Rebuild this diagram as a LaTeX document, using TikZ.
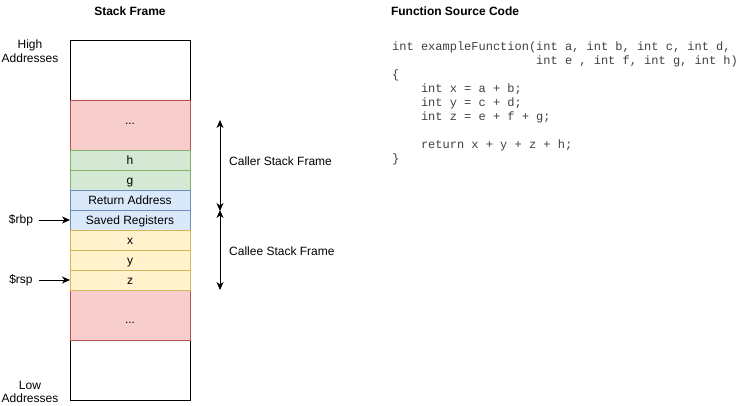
\documentclass[tikz,border=0pt]{standalone}
\usepackage{fontspec}
\setmainfont{Liberation Sans}
\newfontfamily\codefont{Liberation Mono}
\usetikzlibrary{arrows.meta}
\definecolor{redF}{HTML}{F8CECC}\definecolor{redD}{HTML}{B85450}
\definecolor{grnF}{HTML}{D5E8D4}\definecolor{grnD}{HTML}{82B366}
\definecolor{bluF}{HTML}{DAE8FC}\definecolor{bluD}{HTML}{6C8EBF}
\definecolor{yelF}{HTML}{FFF2CC}\definecolor{yelD}{HTML}{D6B656}
\definecolor{codeC}{HTML}{404040}
\tikzset{
  lbl/.style={font=\fontsize{12}{13.5}\selectfont, inner sep=0pt},
  ttl/.style={font=\fontsize{12}{14}\selectfont\bfseries, inner sep=0pt},
  cell/.style={draw, line width=0.9pt, minimum width=120pt, anchor=north west, inner sep=0pt, outer sep=0pt,
    text height=10pt, text depth=1.5pt, font=\fontsize{12}{14}\selectfont},
  whitecell/.style={cell, draw=black, fill=white},
  redcell/.style={cell, draw=redD, fill=redF},
  grncell/.style={cell, draw=grnD, fill=grnF},
  blucell/.style={cell, draw=bluD, fill=bluF},
  yelcell/.style={cell, draw=yelD, fill=yelF},
  code/.style={font=\fontsize{12}{14}\selectfont\codefont, text=codeC, inner sep=0pt, anchor=base west},
  arr/.style={-{Stealth[length=8pt,width=7pt,inset=2.5pt]}, line width=0.9pt},
  darr/.style={{Stealth[length=8pt,width=7pt,inset=2.5pt]}-{Stealth[length=8pt,width=7pt,inset=2.5pt]}, line width=0.9pt},
}
\begin{document}
\begin{tikzpicture}[x=1pt,y=-1pt]
\useasboundingbox (0,0) rectangle (751,405);
% titles
\node[ttl] (t1) at (130,11) {Stack Frame};
\node[ttl] (t2) at (455,11) {Function Source Code};
% stack cells
\node[whitecell, minimum height=60pt] (top) at (70,40) {};
\node[whitecell, minimum height=60pt] (bot) at (70,340) {};
\node[redcell, minimum height=50pt] (r1) at (70,100) {};
\node[lbl] (r1t) at (130,123.5) {...};
\node[redcell, minimum height=50pt] (r2) at (70,290) {};
\node[lbl] (r2t) at (130,322.5) {...};
\node[grncell, minimum height=20pt] (h) at (70,150) {h};
\node[grncell, minimum height=20pt] (g) at (70,170) {g};
\node[blucell, minimum height=20pt] (ra) at (70,190) {Return Address};
\node[blucell, minimum height=20pt] (sr) at (70,210) {Saved Registers};
\node[yelcell, minimum height=20pt] (x) at (70,230) {x};
\node[yelcell, minimum height=20pt] (y) at (70,250) {y};
\node[yelcell, minimum height=20pt] (z) at (70,270) {z};
% side labels
\node[lbl, align=center] (high) at (30,51) {High\\Addresses};
\node[lbl, align=center] (low) at (30,392) {Low\\Addresses};
\node[lbl] (rbp) at (21,220) {\$rbp};
\node[lbl] (rsp) at (21,280) {\$rsp};
\draw[arr, shorten <=6pt] (rbp.east) -- (sr.west);
\draw[arr, shorten <=6pt] (rsp.east) -- (z.west);
% frame arrows
\coordinate (c1) at (220,120);
\coordinate (c2) at (220,211);
\coordinate (c3) at (220,210);
\coordinate (c4) at (220,290);
\draw[darr] (c1) -- (c2);
\draw[darr] (c3) -- (c4);
\node[lbl, anchor=west] (caller) at (229,161) {Caller Stack Frame};
\node[lbl, anchor=west] (callee) at (229,251) {Callee Stack Frame};
% code
\node[code] (l1) at (392,50) {int exampleFunction(int a, int b, int c, int d,};
\node[code] (l2) at (536,64) {int e , int f, int g, int h)};
\node[code] (l3) at (392,78) {\{};
\node[code] (l4) at (420.8,92) {int x = a + b;};
\node[code] (l5) at (420.8,106) {int y = c + d;};
\node[code] (l6) at (420.8,120) {int z = e + f + g;};
\node[code] (l7) at (420.8,148) {return x + y + z + h;};
\node[code] (l8) at (392,162) {\}};
\end{tikzpicture}
\end{document}
